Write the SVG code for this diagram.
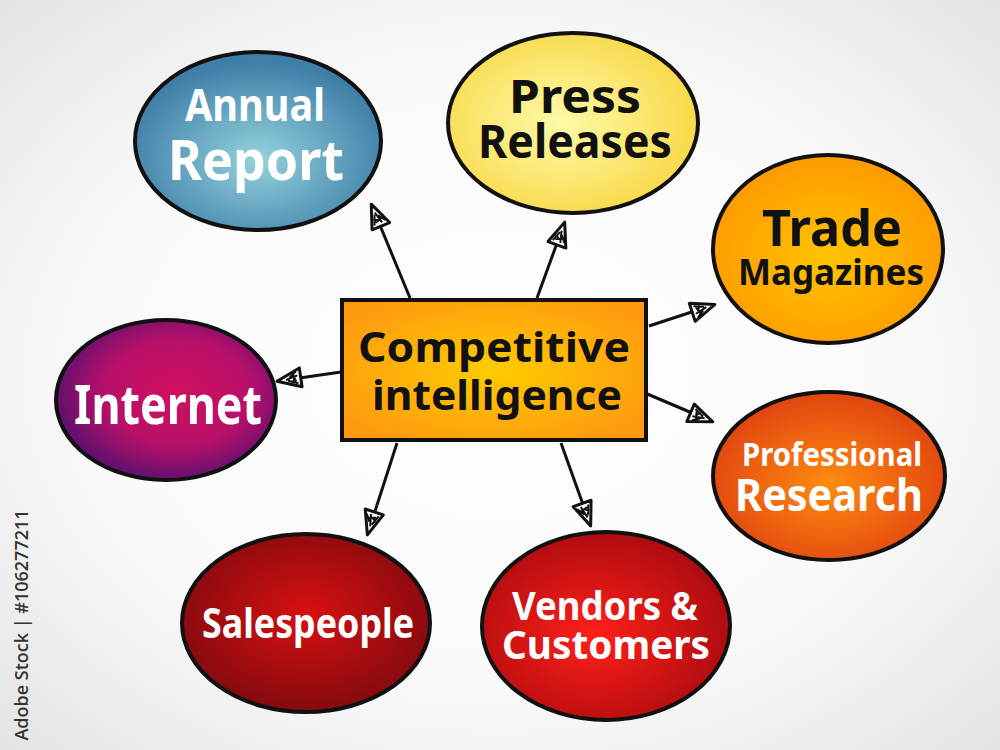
<svg xmlns="http://www.w3.org/2000/svg" width="1000" height="750" viewBox="0 0 1000 750">
<defs>
<radialGradient id="bg" cx="50%" cy="50%" r="70%"><stop offset="0" stop-color="#ffffff"/><stop offset="0.6" stop-color="#f9f9f9"/><stop offset="1" stop-color="#e4e4e4"/></radialGradient>
<radialGradient id="gCenter" cx="50%" cy="50%" r="60%"><stop offset="0" stop-color="#ffcc00"/><stop offset="1" stop-color="#ff9a10"/></radialGradient>
<radialGradient id="gBlue" cx="50%" cy="60%" r="55%"><stop offset="0" stop-color="#95d3dc"/><stop offset="1" stop-color="#3e7ea8"/></radialGradient>
<radialGradient id="gYellow" cx="45%" cy="50%" r="55%"><stop offset="0" stop-color="#fffaa8"/><stop offset="1" stop-color="#f8d94a"/></radialGradient>
<radialGradient id="gOrange" cx="50%" cy="55%" r="55%"><stop offset="0" stop-color="#ffc400"/><stop offset="1" stop-color="#ff9a00"/></radialGradient>
<radialGradient id="gMagenta" cx="55%" cy="45%" r="55%"><stop offset="0" stop-color="#d0105e"/><stop offset="0.6" stop-color="#b8106a"/><stop offset="1" stop-color="#62106e"/></radialGradient>
<radialGradient id="gProf" cx="50%" cy="55%" r="55%"><stop offset="0" stop-color="#ff8c10"/><stop offset="1" stop-color="#e04410"/></radialGradient>
<radialGradient id="gSales" cx="50%" cy="45%" r="55%"><stop offset="0" stop-color="#d81010"/><stop offset="1" stop-color="#840a10"/></radialGradient>
<radialGradient id="gVend" cx="45%" cy="55%" r="55%"><stop offset="0" stop-color="#ff2018"/><stop offset="1" stop-color="#b00c10"/></radialGradient>
<marker id="ah" markerWidth="30" markerHeight="24" refX="24" refY="11" orient="auto" markerUnits="userSpaceOnUse">
<path d="M2,2 L26,11 L2,21 Z" fill="#ffffff" stroke="#111" stroke-width="3" stroke-linejoin="round"/>
<path d="M5,6 L15,10 M5,14 L17,11 M7,8 L10,17 M6,18 L13,13 M11,7 L8,12" stroke="#111" stroke-width="2" fill="none"/>
</marker>
<style>
.node{stroke:#111;stroke-width:4}
.t{font-family:"Noto Sans","Open Sans","DejaVu Sans",sans-serif;font-weight:700;text-anchor:middle}
.w{fill:#ffffff}
.k{fill:#111111}
.conn{stroke:#111;stroke-width:3;fill:none;marker-end:url(#ah)}
</style>
</defs>
<rect x="0" y="0" width="1000" height="750" fill="url(#bg)"/>
<text x="0" y="0" transform="translate(28,625) rotate(-90)" font-family="'Open Sans','Noto Sans',sans-serif" font-size="18" fill="#333" text-anchor="middle" font-weight="600">Adobe Stock | #106277211</text>

<g id="connectors">
<line class="conn" x1="410" y1="298" x2="372" y2="206"/>
<line class="conn" x1="537" y1="298" x2="564" y2="224"/>
<line class="conn" x1="649" y1="326" x2="713" y2="305"/>
<line class="conn" x1="645" y1="393" x2="711" y2="421"/>
<line class="conn" x1="561" y1="443" x2="590" y2="524"/>
<line class="conn" x1="397" y1="443" x2="368" y2="533"/>
<line class="conn" x1="341" y1="372" x2="279" y2="381"/>
</g>

<g id="center">
<rect class="node" x="342" y="300" width="304" height="140" fill="url(#gCenter)"/>
<text class="t k" x="494" y="362" font-size="42" textLength="272" lengthAdjust="spacingAndGlyphs">Competitive</text>
<text class="t k" x="497" y="410" font-size="42" textLength="250" lengthAdjust="spacingAndGlyphs">intelligence</text>
</g>

<g id="annual-report">
<ellipse class="node" cx="258" cy="141" rx="123" ry="89" fill="url(#gBlue)"/>
<text class="t w" x="255" y="121" font-size="44" textLength="140" lengthAdjust="spacingAndGlyphs">Annual</text>
<text class="t w" x="256" y="180" font-size="56" textLength="176" lengthAdjust="spacingAndGlyphs">Report</text>
</g>

<g id="press-releases">
<ellipse class="node" cx="573" cy="123" rx="125" ry="90" fill="url(#gYellow)"/>
<text class="t k" x="575" y="113" font-size="46" textLength="132" lengthAdjust="spacingAndGlyphs">Press</text>
<text class="t k" x="575" y="158" font-size="46" textLength="194" lengthAdjust="spacingAndGlyphs">Releases</text>
</g>

<g id="trade-magazines">
<ellipse class="node" cx="828" cy="249" rx="115" ry="94" fill="url(#gOrange)"/>
<text class="t k" x="832" y="246" font-size="50" textLength="140" lengthAdjust="spacingAndGlyphs">Trade</text>
<text class="t k" x="831" y="285" font-size="36" textLength="186" lengthAdjust="spacingAndGlyphs">Magazines</text>
</g>

<g id="internet">
<ellipse class="node" cx="166" cy="400" rx="110" ry="80" fill="url(#gMagenta)"/>
<text class="t w" x="168" y="424" font-size="54" textLength="188" lengthAdjust="spacingAndGlyphs">Internet</text>
</g>

<g id="professional-research">
<ellipse class="node" cx="829" cy="476" rx="116" ry="84" fill="url(#gProf)"/>
<text class="t w" x="832" y="466" font-size="32" textLength="180" lengthAdjust="spacingAndGlyphs">Professional</text>
<text class="t w" x="829" y="511" font-size="44" textLength="188" lengthAdjust="spacingAndGlyphs">Research</text>
</g>

<g id="salespeople">
<ellipse class="node" cx="306" cy="623" rx="124" ry="89" fill="url(#gSales)"/>
<text class="t w" x="308" y="638" font-size="42" textLength="212" lengthAdjust="spacingAndGlyphs">Salespeople</text>
</g>

<g id="vendors-customers">
<ellipse class="node" cx="606" cy="626" rx="124" ry="94" fill="url(#gVend)"/>
<text class="t w" x="605" y="620" font-size="40" textLength="186" lengthAdjust="spacingAndGlyphs">Vendors &amp;</text>
<text class="t w" x="606" y="659" font-size="40" textLength="208" lengthAdjust="spacingAndGlyphs">Customers</text>
</g>
</svg>
